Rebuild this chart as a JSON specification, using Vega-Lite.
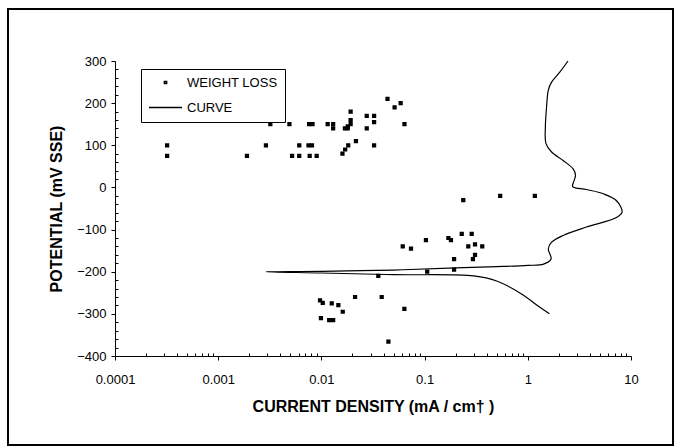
{
  "$schema": "https://vega.github.io/schema/vega-lite/v6.json",
  "autosize": {"type": "none"},
  "padding": {"left": 8, "top": 9, "right": 4, "bottom": 3},
  "width": 665,
  "height": 436,
  "background": "white",
  "config": {
    "view": {"stroke": "black", "strokeWidth": 2},
    "font": "Liberation Sans"
  },
  "datasets": {
    "pts": [
      {"cd": 0.00032, "pot": 100}, {"cd": 0.00032, "pot": 75}, {"cd": 0.0019, "pot": 75}, {"cd": 0.0029, "pot": 100},
      {"cd": 0.0032, "pot": 150}, {"cd": 0.0049, "pot": 150}, {"cd": 0.0052, "pot": 75}, {"cd": 0.0061, "pot": 100},
      {"cd": 0.0061, "pot": 75}, {"cd": 0.0076, "pot": 150}, {"cd": 0.0082, "pot": 150}, {"cd": 0.0075, "pot": 100},
      {"cd": 0.0081, "pot": 100}, {"cd": 0.0077, "pot": 75}, {"cd": 0.009, "pot": 75}, {"cd": 0.0115, "pot": 150},
      {"cd": 0.013, "pot": 150}, {"cd": 0.013, "pot": 140}, {"cd": 0.0169, "pot": 140}, {"cd": 0.018, "pot": 140},
      {"cd": 0.018, "pot": 145}, {"cd": 0.0192, "pot": 180}, {"cd": 0.0192, "pot": 160}, {"cd": 0.0192, "pot": 150},
      {"cd": 0.0182, "pot": 100}, {"cd": 0.017, "pot": 90}, {"cd": 0.016, "pot": 80}, {"cd": 0.0216, "pot": 110},
      {"cd": 0.0275, "pot": 170}, {"cd": 0.0324, "pot": 170}, {"cd": 0.0275, "pot": 140}, {"cd": 0.0324, "pot": 155},
      {"cd": 0.0324, "pot": 100}, {"cd": 0.0437, "pot": 210}, {"cd": 0.0512, "pot": 190}, {"cd": 0.0586, "pot": 200},
      {"cd": 0.0638, "pot": 150},
      {"cd": 0.237, "pot": -30}, {"cd": 0.54, "pot": -20}, {"cd": 1.17, "pot": -20}, {"cd": 0.0614, "pot": -140},
      {"cd": 0.0738, "pot": -145}, {"cd": 0.103, "pot": -125}, {"cd": 0.17, "pot": -120}, {"cd": 0.18, "pot": -125},
      {"cd": 0.229, "pot": -110}, {"cd": 0.286, "pot": -110}, {"cd": 0.265, "pot": -140}, {"cd": 0.308, "pot": -135},
      {"cd": 0.362, "pot": -140}, {"cd": 0.193, "pot": -170}, {"cd": 0.308, "pot": -160}, {"cd": 0.294, "pot": -170},
      {"cd": 0.106, "pot": -200}, {"cd": 0.193, "pot": -195}, {"cd": 0.0356, "pot": -210},
      {"cd": 0.0384, "pot": -260}, {"cd": 0.0637, "pot": -288}, {"cd": 0.0097, "pot": -268}, {"cd": 0.0103, "pot": -274},
      {"cd": 0.0126, "pot": -275}, {"cd": 0.0146, "pot": -279}, {"cd": 0.0161, "pot": -295}, {"cd": 0.0212, "pot": -260},
      {"cd": 0.0099, "pot": -310}, {"cd": 0.0119, "pot": -315}, {"cd": 0.013, "pot": -315}, {"cd": 0.0446, "pot": -366}
    ],
    "curve": [
      {"i": 1, "cd": 2.45, "pot": 300}, {"i": 2, "cd": 2.05, "pot": 274}, {"i": 3, "cd": 1.7, "pot": 250},
      {"i": 4, "cd": 1.58, "pot": 231}, {"i": 5, "cd": 1.52, "pot": 191}, {"i": 6, "cd": 1.48, "pot": 144},
      {"i": 7, "cd": 1.5, "pot": 104}, {"i": 8, "cd": 1.7, "pot": 84}, {"i": 9, "cd": 2.2, "pot": 64},
      {"i": 10, "cd": 2.75, "pot": 44}, {"i": 11, "cd": 2.9, "pot": 29}, {"i": 12, "cd": 2.78, "pot": 13},
      {"i": 13, "cd": 2.72, "pot": 2}, {"i": 14, "cd": 3.7, "pot": -5}, {"i": 15, "cd": 5.4, "pot": -15},
      {"i": 16, "cd": 7.2, "pot": -31}, {"i": 17, "cd": 8.2, "pot": -58}, {"i": 18, "cd": 7.3, "pot": -71},
      {"i": 19, "cd": 3.7, "pot": -94}, {"i": 20, "cd": 2.2, "pot": -114}, {"i": 21, "cd": 1.7, "pot": -130},
      {"i": 22, "cd": 1.58, "pot": -146}, {"i": 23, "cd": 1.68, "pot": -170}, {"i": 24, "cd": 1.42, "pot": -182},
      {"i": 25, "cd": 1.0, "pot": -185}, {"i": 26, "cd": 0.5, "pot": -188}, {"i": 27, "cd": 0.2, "pot": -191},
      {"i": 28, "cd": 0.05, "pot": -196}, {"i": 29, "cd": 0.01, "pot": -199}, {"i": 30, "cd": 0.0029, "pot": -200},
      {"i": 31, "cd": 0.01, "pot": -203}, {"i": 32, "cd": 0.05, "pot": -207}, {"i": 33, "cd": 0.3, "pot": -210},
      {"i": 34, "cd": 0.5, "pot": -222}, {"i": 35, "cd": 0.9, "pot": -255}, {"i": 36, "cd": 1.2, "pot": -278},
      {"i": 37, "cd": 1.62, "pot": -300}
    ]
  },
  "resolve": {"axis": {"y": "independent"}},
  "layer": [
    {
      "data": {"name": "pts"},
      "transform": [{"calculate": "'WEIGHT LOSS'", "as": "series"}],
      "mark": {"type": "point", "filled": false, "stroke": "black", "strokeWidth": 2, "opacity": 1},
      "encoding": {
        "x": {
          "field": "cd", "type": "quantitative",
          "scale": {"type": "log", "domain": [0.0001, 10], "range": [107, 623], "nice": false},
          "axis": {
            "offset": -89, "grid": false, "domainColor": "black", "tickColor": "black", "labelColor": "black", "titleColor": "black",
            "values": [0.0001, 0.0002, 0.0003, 0.0004, 0.0005, 0.0006, 0.0007, 0.0008, 0.0009,
                       0.001, 0.002, 0.003, 0.004, 0.005, 0.006, 0.007, 0.008, 0.009,
                       0.01, 0.02, 0.03, 0.04, 0.05, 0.06, 0.07, 0.08, 0.09,
                       0.1, 0.2, 0.3, 0.4, 0.5, 0.6, 0.7, 0.8, 0.9,
                       1, 2, 3, 4, 5, 6, 7, 8, 9, 10],
            "format": "~g",
            "labelExpr": "abs(log(datum.value)/LN10 - round(log(datum.value)/LN10)) < 0.000001 ? datum.label : ''",
            "tickSize": {"condition": {"test": "abs(log(datum.value)/LN10 - round(log(datum.value)/LN10)) < 0.000001", "value": 4}, "value": -3},
            "labelPadding": 13, "labelFontSize": 13, "labelFlush": false, "labelOverlap": false,
            "title": "CURRENT DENSITY (mA / cm† )", "titleFontSize": 16, "titleFontWeight": "bold", "titlePadding": 12
          }
        },
        "y": {
          "field": "pot", "type": "quantitative",
          "scale": {"domain": [-400, 300], "range": [347, 52], "nice": false, "zero": false},
          "axis": {
            "orient": "left", "offset": -107, "grid": false, "domainColor": "black", "tickColor": "black", "labelColor": "black", "titleColor": "black",
            "values": [-400, -300, -200, -100, 0, 100, 200, 300],
            "tickSize": 4, "labelPadding": 5, "labelFontSize": 13, "labelOverlap": false, "labelFlush": false,
            "title": "POTENTIAL (mV SSE)", "titleFontSize": 16, "titleFontWeight": "bold", "titlePadding": 12
          }
        },
        "shape": {
          "field": "series", "type": "nominal",
          "scale": {"domain": ["WEIGHT LOSS", "CURVE"], "range": ["square", "stroke"]},
          "legend": {"title": null, "orient": "none", "legendX": 133, "legendY": 60, "strokeColor": "black", "padding": 7, "rowPadding": 0, "labelFontSize": 13, "labelColor": "black",
            "symbolStrokeColor": "black"}
        },
        "size": {
          "field": "series", "type": "nominal",
          "scale": {"domain": ["WEIGHT LOSS", "CURVE"], "range": [5, 1089]},
          "legend": {"title": null, "orient": "none", "legendX": 133, "legendY": 60, "strokeColor": "black", "padding": 7, "rowPadding": 0, "labelFontSize": 13, "labelColor": "black",
            "symbolStrokeColor": "black"}
        }
      }
    },
    {
      "data": {"name": "curve"},
      "mark": {"type": "line", "color": "black", "strokeWidth": 1.2, "interpolate": "catmull-rom"},
      "encoding": {
        "x": {"field": "cd", "type": "quantitative"},
        "y": {
          "field": "pot", "type": "quantitative",
          "scale": {"domain": [-400, 300], "range": [347, 52], "nice": false, "zero": false},
          "axis": {
            "orient": "left", "offset": -107, "grid": false, "labels": false, "domain": false, "title": null,
            "tickColor": "black", "tickSize": -3,
            "values": [-380, -360, -340, -320, -280, -260, -240, -220, -180, -160, -140, -120,
                       -80, -60, -40, -20, 20, 40, 60, 80, 120, 140, 160, 180, 220, 240, 260, 280]
          }
        },
        "order": {"field": "i", "type": "quantitative"}
      }
    }
  ]
}
